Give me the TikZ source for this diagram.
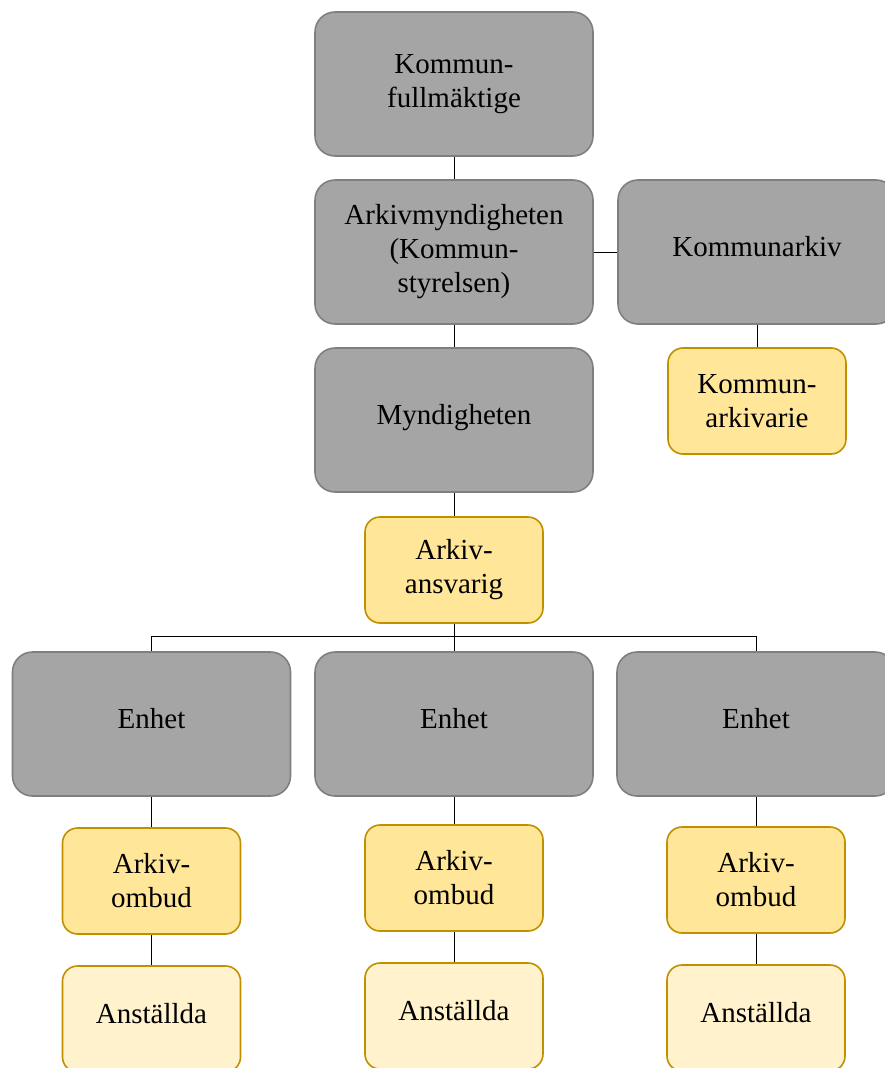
\documentclass[tikz,border=0pt]{standalone}
\usepackage{fontspec}
\setmainfont{Liberation Serif}
\definecolor{unitfill}{HTML}{A5A5A5}
\definecolor{unitdraw}{HTML}{7F7F7F}
\definecolor{rolefill}{HTML}{FFE699}
\definecolor{roledraw}{HTML}{BF9000}
\definecolor{stafffill}{HTML}{FFF2CC}
\begin{document}
\begin{tikzpicture}[
            x=1pt, y=-1pt,
            unit/.style={
                rectangle,
                rounded corners=20pt,
                draw=unitdraw,
                fill=unitfill,
                line width=1.6pt,
                minimum width=278pt,
                minimum height=144pt,
                align=center,
                font=\fontsize{29}{34}\selectfont
            },
            role/.style={
                rectangle,
                rounded corners=15pt,
                draw=roledraw,
                fill=rolefill,
                line width=1.6pt,
                minimum width=178pt,
                minimum height=106pt,
                align=center,
                font=\fontsize{29}{34}\selectfont
            },
            staff/.style={
                role,
                fill=stafffill
            },
            oneline/.style={text height=20pt, text depth=12pt},
            link/.style={draw=black, line width=0.9pt}
        ]
        \useasboundingbox (0,0) rectangle (885,1068);

        % Top of the organisation
        \node[unit] (kf) at (454,84) {Kommun-\\fullmäktige};
        \node[unit] (am) at (454,252) {Arkivmyndigheten\\(Kommun-\\styrelsen)};
        \node[unit, oneline] (ka) at (757,252) {Kommunarkiv};
        \node[role] (kav) at (757,401) {Kommun-\\arkivarie};
        \node[unit, oneline] (my) at (454,420) {Myndigheten};
        \node[role] (aa) at (454,570) {Arkiv-\\ansvarig};

        % Units
        \node[unit, oneline] (e1) at (151.5,724) {Enhet};
        \node[unit, oneline] (e2) at (454,724) {Enhet};
        \node[unit, oneline] (e3) at (756,724) {Enhet};

        % Archive contacts
        \node[role] (o1) at (151.5,881) {Arkiv-\\ombud};
        \node[role] (o2) at (454,878) {Arkiv-\\ombud};
        \node[role] (o3) at (756,880) {Arkiv-\\ombud};

        % Employees
        \node[staff, oneline] (s1) at (151.5,1019) {Anställda};
        \node[staff, oneline] (s2) at (454,1016) {Anställda};
        \node[staff, oneline] (s3) at (756,1018) {Anställda};

        % Connectors
        \coordinate (bus) at (454,636);
        \draw[link] (kf.south) -- (am.north);
        \draw[link] (am.east) -- (ka.west);
        \draw[link] (ka.south) -- (kav.north);
        \draw[link] (am.south) -- (my.north);
        \draw[link] (my.south) -- (aa.north);
        \draw[link] (aa.south) -- (e2.north);
        \draw[link] (bus) -| (e1.north);
        \draw[link] (bus) -| (e3.north);
        \draw[link] (e1.south) -- (o1.north);
        \draw[link] (e2.south) -- (o2.north);
        \draw[link] (e3.south) -- (o3.north);
        \draw[link] (o1.south) -- (s1.north);
        \draw[link] (o2.south) -- (s2.north);
        \draw[link] (o3.south) -- (s3.north);
\end{tikzpicture}
\end{document}
